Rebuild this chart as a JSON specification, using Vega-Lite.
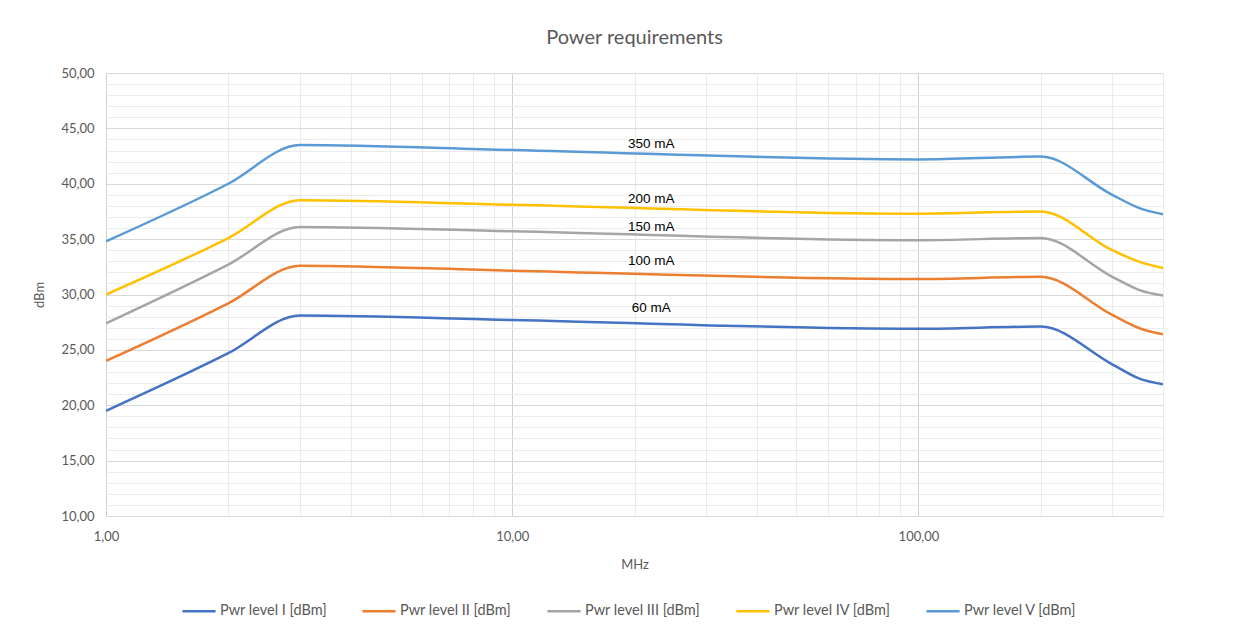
{
  "$schema": "https://vega.github.io/schema/vega-lite/v6.json",
  "width": 1057,
  "height": 443,
  "autosize": {"type": "none"},
  "padding": {"left": 106, "top": 73, "right": 76, "bottom": 115},
  "background": "white",
  "config": {
    "locale": {"number": {"decimal": ",", "thousands": ".", "grouping": [3], "currency": ["", "€"]}},
    "view": {"stroke": null},
    "font": "Lato"
  },
  "title": {"text": "Power requirements", "fontSize": 20, "fontWeight": "normal", "color": "#595959", "font": "Lato", "anchor": "middle", "offset": 19},
  "datasets": {
    "lines": [
      {"MHz": 1, "dBm": 19.5, "series": "Pwr level I [dBm]"},
      {"MHz": 2, "dBm": 24.7, "series": "Pwr level I [dBm]"},
      {"MHz": 3, "dBm": 28.1, "series": "Pwr level I [dBm]"},
      {"MHz": 10, "dBm": 27.7, "series": "Pwr level I [dBm]"},
      {"MHz": 100, "dBm": 26.9, "series": "Pwr level I [dBm]"},
      {"MHz": 200, "dBm": 27.1, "series": "Pwr level I [dBm]"},
      {"MHz": 300, "dBm": 23.7, "series": "Pwr level I [dBm]"},
      {"MHz": 350, "dBm": 22.4, "series": "Pwr level I [dBm]"},
      {"MHz": 400, "dBm": 21.9, "series": "Pwr level I [dBm]"},
      {"MHz": 1, "dBm": 24.0, "series": "Pwr level II [dBm]"},
      {"MHz": 2, "dBm": 29.2, "series": "Pwr level II [dBm]"},
      {"MHz": 3, "dBm": 32.6, "series": "Pwr level II [dBm]"},
      {"MHz": 10, "dBm": 32.15, "series": "Pwr level II [dBm]"},
      {"MHz": 100, "dBm": 31.4, "series": "Pwr level II [dBm]"},
      {"MHz": 200, "dBm": 31.6, "series": "Pwr level II [dBm]"},
      {"MHz": 300, "dBm": 28.15, "series": "Pwr level II [dBm]"},
      {"MHz": 350, "dBm": 26.95, "series": "Pwr level II [dBm]"},
      {"MHz": 400, "dBm": 26.4, "series": "Pwr level II [dBm]"},
      {"MHz": 1, "dBm": 27.4, "series": "Pwr level III [dBm]"},
      {"MHz": 2, "dBm": 32.7, "series": "Pwr level III [dBm]"},
      {"MHz": 3, "dBm": 36.1, "series": "Pwr level III [dBm]"},
      {"MHz": 10, "dBm": 35.7, "series": "Pwr level III [dBm]"},
      {"MHz": 100, "dBm": 34.9, "series": "Pwr level III [dBm]"},
      {"MHz": 200, "dBm": 35.1, "series": "Pwr level III [dBm]"},
      {"MHz": 300, "dBm": 31.6, "series": "Pwr level III [dBm]"},
      {"MHz": 350, "dBm": 30.4, "series": "Pwr level III [dBm]"},
      {"MHz": 400, "dBm": 29.9, "series": "Pwr level III [dBm]"},
      {"MHz": 1, "dBm": 30.0, "series": "Pwr level IV [dBm]"},
      {"MHz": 2, "dBm": 35.1, "series": "Pwr level IV [dBm]"},
      {"MHz": 3, "dBm": 38.5, "series": "Pwr level IV [dBm]"},
      {"MHz": 10, "dBm": 38.1, "series": "Pwr level IV [dBm]"},
      {"MHz": 100, "dBm": 37.3, "series": "Pwr level IV [dBm]"},
      {"MHz": 200, "dBm": 37.5, "series": "Pwr level IV [dBm]"},
      {"MHz": 300, "dBm": 34.0, "series": "Pwr level IV [dBm]"},
      {"MHz": 350, "dBm": 32.95, "series": "Pwr level IV [dBm]"},
      {"MHz": 400, "dBm": 32.4, "series": "Pwr level IV [dBm]"},
      {"MHz": 1, "dBm": 34.8, "series": "Pwr level V [dBm]"},
      {"MHz": 2, "dBm": 40.0, "series": "Pwr level V [dBm]"},
      {"MHz": 3, "dBm": 43.5, "series": "Pwr level V [dBm]"},
      {"MHz": 10, "dBm": 43.05, "series": "Pwr level V [dBm]"},
      {"MHz": 100, "dBm": 42.2, "series": "Pwr level V [dBm]"},
      {"MHz": 200, "dBm": 42.45, "series": "Pwr level V [dBm]"},
      {"MHz": 300, "dBm": 39.0, "series": "Pwr level V [dBm]"},
      {"MHz": 350, "dBm": 37.8, "series": "Pwr level V [dBm]"},
      {"MHz": 400, "dBm": 37.25, "series": "Pwr level V [dBm]"}
    ],
    "labels": [
      {"MHz": 22, "dBm": 43.6, "text": "350 mA"},
      {"MHz": 22, "dBm": 38.6, "text": "200 mA"},
      {"MHz": 22, "dBm": 36.1, "text": "150 mA"},
      {"MHz": 22, "dBm": 33.0, "text": "100 mA"},
      {"MHz": 22, "dBm": 28.8, "text": "60 mA"}
    ]
  },
  "encoding": {
    "x": {
      "field": "MHz", "type": "quantitative",
      "scale": {"type": "log", "domain": [1, 400], "nice": false},
      "axis": {
        "title": "MHz", "titleColor": "#595959", "titleFontSize": 13, "titleFontWeight": "normal", "titleFont": "Lato", "titlePadding": 15,
        "values": [1, 2, 3, 4, 5, 6, 7, 8, 9, 10, 20, 30, 40, 50, 60, 70, 80, 90, 100, 200, 300, 400],
        "format": ".2f",
        "labelExpr": "indexof([1,10,100], datum.value) >= 0 ? datum.label : ''",
        "labelOverlap": false, "labelFlush": false,
        "labelColor": "#595959", "labelFontSize": 13, "labelFont": "Lato", "labelPadding": 14,
        "ticks": false, "domain": false,
        "grid": true,
        "gridColor": {"condition": {"test": "indexof([1,10,100], datum.value) >= 0", "value": "#d0d0d0"}, "value": "#ebebeb"},
        "gridWidth": 1
      }
    },
    "y": {
      "field": "dBm", "type": "quantitative",
      "scale": {"domain": [10, 50], "nice": false, "zero": false},
      "axis": {
        "title": "dBm", "titleColor": "#595959", "titleFontSize": 13, "titleFontWeight": "normal", "titleFont": "Lato", "titlePadding": 14,
        "values": [10,11,12,13,14,15,16,17,18,19,20,21,22,23,24,25,26,27,28,29,30,31,32,33,34,35,36,37,38,39,40,41,42,43,44,45,46,47,48,49,50],
        "format": ".2f",
        "labelExpr": "datum.value % 5 === 0 ? datum.label : ''",
        "labelOverlap": false,
        "labelColor": "#595959", "labelFontSize": 13, "labelFont": "Lato", "labelPadding": 12,
        "ticks": false, "domain": false,
        "grid": true,
        "gridColor": {"condition": {"test": "datum.value % 5 === 0", "value": "#d9d9d9"}, "value": "#ebebeb"},
        "gridWidth": 1
      }
    }
  },
  "layer": [
    {
      "data": {"name": "lines"},
      "mark": {"type": "line", "interpolate": "monotone", "strokeWidth": 2.5, "clip": true},
      "encoding": {
        "color": {
          "field": "series", "type": "nominal",
          "scale": {
            "domain": ["Pwr level I [dBm]", "Pwr level II [dBm]", "Pwr level III [dBm]", "Pwr level IV [dBm]", "Pwr level V [dBm]"],
            "range": ["#4472C4", "#ED7D31", "#A5A5A5", "#FFC000", "#5B9BD5"]
          },
          "legend": {
            "title": null, "orient": "none", "legendX": 75, "legendY": 520, "direction": "horizontal",
            "symbolType": "stroke", "symbolStrokeWidth": 2.5, "symbolSize": 1100,
            "labelColor": "#595959", "labelFontSize": 14.5, "labelFont": "Lato",
            "columnPadding": 30, "labelOffset": 3
          }
        }
      }
    },
    {
      "data": {"name": "labels"},
      "mark": {"type": "text", "fontSize": 13.5, "font": "Liberation Sans", "color": "#000000", "baseline": "middle", "align": "center"},
      "encoding": {
        "text": {"field": "text"}
      }
    }
  ]
}
